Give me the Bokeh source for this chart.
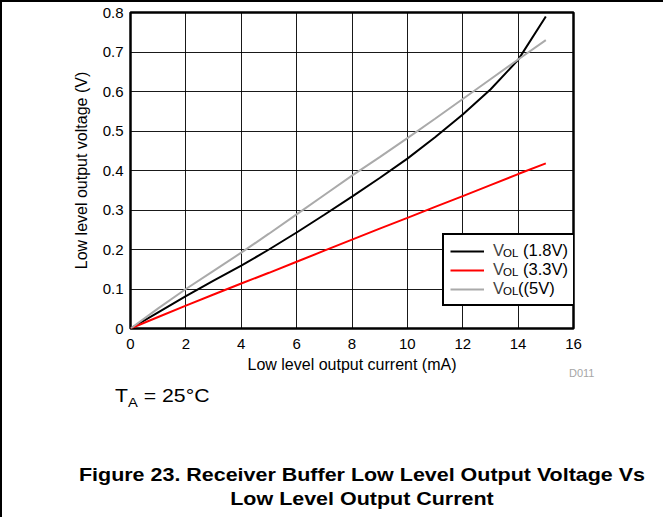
from bokeh.plotting import figure
from bokeh.models import Legend, LegendItem, Div
from bokeh.layouts import column
from bokeh.embed import file_html
from bokeh.resources import INLINE

# ---- data ----
current_ma = [0, 1, 2, 3, 4, 5, 6, 7, 8, 9, 10, 11, 12, 13, 14, 15]
vol_1v8 = [0.0, 0.041, 0.082, 0.121, 0.159, 0.200, 0.243, 0.288, 0.334, 0.381, 0.430, 0.484, 0.542, 0.605, 0.680, 0.790]
vol_3v3 = [0.0, 0.029, 0.058, 0.086, 0.114, 0.141, 0.169, 0.197, 0.225, 0.253, 0.280, 0.308, 0.335, 0.363, 0.391, 0.418]
vol_5v = [0.0, 0.051, 0.100, 0.146, 0.192, 0.240, 0.289, 0.338, 0.387, 0.434, 0.482, 0.531, 0.581, 0.631, 0.681, 0.730]

x_ticks = [0, 2, 4, 6, 8, 10, 12, 14, 16]
y_ticks = [0.0, 0.1, 0.2, 0.3, 0.4, 0.5, 0.6, 0.7, 0.8]
y_tick_labels = ["0", "0.1", "0.2", "0.3", "0.4", "0.5", "0.6", "0.7", "0.8"]

series_colors = ["#000000", "#ff0000", "#aaaaaa"]
legend_main = ["V", "V", "V"]
legend_sub = ["OL", "OL", "OL"]
legend_tail = ["(1.8V)", "(3.3V)", "((5V)"]

x_label = "Low level output current (mA)"
y_label = "Low level output voltage (V)"
caption = ["Figure 23. Receiver Buffer Low Level Output Voltage Vs",
           "Low Level Output Current"]
temp_main, temp_sub, temp_tail = "T", "A", "= 25°C"
code_label = "D011"

FONT = "Liberation Sans"

p = figure(width=651, height=378, x_range=(0, 16), y_range=(0, 0.8),
           output_backend="svg", toolbar_location=None,
           min_border_left=128, min_border_right=80,
           min_border_top=10, min_border_bottom=52)
p.background_fill_color = "white"
p.border_fill_color = "white"
p.outline_line_color = "black"
p.outline_line_width = 2.5
p.outline_line_alpha = 1.0

p.xaxis.ticker = x_ticks
p.yaxis.ticker = y_ticks
p.yaxis.major_label_overrides = {t: s for t, s in zip(y_ticks, y_tick_labels)}
for ax in (p.xaxis[0], p.yaxis[0]):
    ax.axis_line_color = None
    ax.major_tick_in = 0
    ax.major_tick_out = 0
    ax.minor_tick_in = 0
    ax.minor_tick_out = 0
    ax.major_label_text_font = FONT
    ax.major_label_text_font_size = "15px"
    ax.major_label_text_color = "black"
    ax.axis_label_text_font = FONT
    ax.axis_label_text_font_size = "16px"
    ax.axis_label_text_font_style = "normal"
    ax.axis_label_text_color = "black"
p.xaxis.axis_label = x_label
p.yaxis.axis_label = y_label
p.xaxis.major_label_standoff = 10
p.yaxis.major_label_standoff = 7
p.xaxis.axis_label_standoff = 4
p.yaxis.axis_label_standoff = 10

p.grid.grid_line_color = "black"
p.grid.grid_line_alpha = 0.9
p.grid.grid_line_width = 1

renderers = []
for ys, col in zip([vol_1v8, vol_3v3, vol_5v], series_colors):
    renderers.append(p.line(current_ma, ys, line_color=col, line_width=2))

legend = Legend(
    items=[LegendItem(label=m, renderers=[r]) for m, r in zip(legend_main, renderers)],
    location=(312, 22), padding=6, margin=0, spacing=0,
    glyph_width=34, glyph_height=18, label_height=18, label_width=76,
    label_standoff=9, border_line_color="black", border_line_width=2,
    border_line_alpha=1.0, background_fill_alpha=1.0,
    label_text_font=FONT, label_text_font_size="16.5px",
    label_text_baseline="middle",
)
p.add_layout(legend)

# ---- HTML text layer (div starts below the figure; negative tops reach up into it) ----
FF = "font-family:'Liberation Sans',Arial,sans-serif;"
ABS = "position:absolute;white-space:nowrap;"
parts = [f'<div style="position:relative;width:651px;height:127px;overflow:visible;{FF}color:#000;">']

# legend subscripts / suffixes
sub_tops = [-138, -119, -100]
tail_tops = [-144, -125, -106]
for sub, tail, st, tt in zip(legend_sub, legend_tail, sub_tops, tail_tops):
    parts.append(f'<div style="{ABS}left:496px;top:{st}px;font-size:11.5px;line-height:12px;">{sub}</div>')
    tl = 511 if tail.startswith("((") else 516
    parts.append(f'<div style="{ABS}left:{tl}px;top:{tt}px;font-size:16.5px;line-height:18px;">{tail}</div>')

# figure code
parts.append(f'<div style="{ABS}left:562px;top:-18px;font-size:11px;line-height:12px;color:#a6a6a6;">{code_label}</div>')

# temperature note
parts.append(
    f'<div style="{ABS}left:108px;top:0px;font-size:18px;line-height:22px;'
    'transform:scaleX(1.18);transform-origin:left center;">'
    f'{temp_main}<span style="font-size:12.5px;position:relative;top:5px;">{temp_sub}</span> {temp_tail}</div>')

# caption
for line, top in zip(caption, [78, 102]):
    parts.append(
        f'<div style="{ABS}left:355px;top:{top}px;font-size:18.5px;line-height:24px;font-weight:bold;'
        f'transform:translateX(-50%) scaleX(1.16);transform-origin:center center;">{line}</div>')
parts.append('</div>')

notes = Div(text="".join(parts), width=651, height=127, styles={"overflow": "visible"})

layout = column(p, notes, spacing=0,
                styles={"border-top": "2px solid black", "border-left": "2px solid black"})

open("out.html", "w").write(file_html(layout, INLINE))
